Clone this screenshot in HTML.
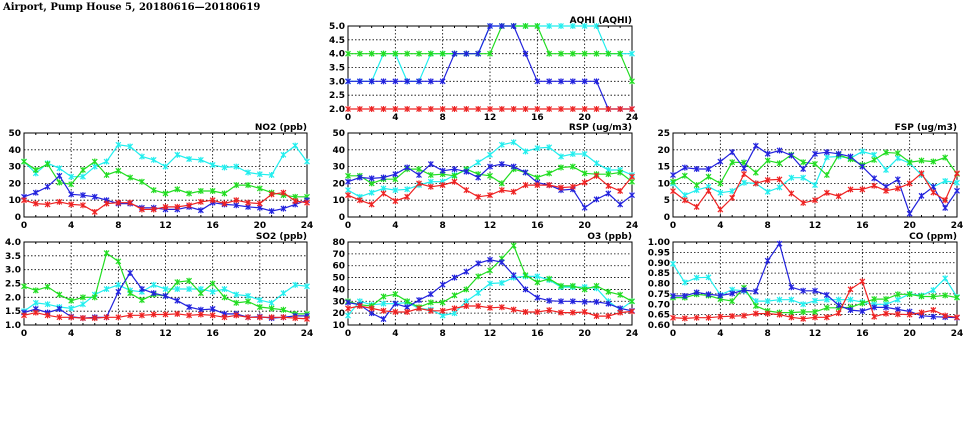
<!DOCTYPE html>
<html><head><meta charset="utf-8"><style>
html,body{margin:0;padding:0;background:#fff;width:975px;height:447px;overflow:hidden}
svg{display:block}
text{font-family:"DejaVu Sans","Liberation Sans",sans-serif;font-size:9px;font-weight:bold;fill:#000}
</style></head><body>
<svg id="s" width="975" height="447" xmlns="http://www.w3.org/2000/svg">
<text x="3" y="10" style="font-family:'DejaVu Serif','Liberation Serif',serif;font-size:10px">Airport, Pump House 5, 20180616—20180619</text>
</svg>
<script>
const C={c:"#22eeee",g:"#22dd22",b:"#2222dd",r:"#ee2222"};
const P=[
{t:"AQHI (AQHI)",L:348,R:632,T:26,B:109,min:2,max:5,ticks:["2.0","2.5","3.0","3.5","4.0","4.5","5.0"],d:{
c:[3,3,3,4,4,3,3,4,4,4,4,4,5,5,5,5,5,5,5,5,5,5,4,4,4],
g:[4,4,4,4,4,4,4,4,4,4,4,4,4,5,5,5,5,4,4,4,4,4,4,4,3],
b:[3,3,3,3,3,3,3,3,3,4,4,4,5,5,5,4,3,3,3,3,3,3,2,2,2],
r:[2,2,2,2,2,2,2,2,2,2,2,2,2,2,2,2,2,2,2,2,2,2,2,2,2]}},
{t:"NO2 (ppb)",L:24,R:307,T:133,B:217,min:0,max:50,ticks:["0","10","20","30","40","50"],d:{
c:[33,26,32,29,24,24,30,33,43,42,36,34,30,37,34.5,34,31,29.5,30,26.5,25.5,25,37,42.5,33],
g:[33,28,31.5,20.5,19.5,28,33,25,27.5,23.5,21,16,14,16.5,14,15.5,15.5,14,19,19,17,14.5,13,12,12],
b:[12,14.5,18,24.5,13.5,13,12,10,8,8,5.5,5.5,4.5,4.5,6,4,8.5,7.5,7,6,5.5,3.5,5,7.5,10],
r:[10,8,7.5,9,7.5,7,3,8,8.5,8.5,4.5,4.5,6,6,7,9,10,8,10,8.5,8,13.5,14.5,9.5,8.5]}},
{t:"SO2 (ppb)",L:24,R:307,T:242,B:325,min:1,max:4,ticks:["1.0","1.5","2.0","2.5","3.0","3.5","4.0"],d:{
c:[1.5,1.8,1.75,1.65,1.6,1.75,2.1,2.3,2.45,2.25,2.2,2.45,2.3,2.3,2.3,2.3,2.2,2.3,2.1,2.05,1.9,1.8,2.15,2.45,2.4],
g:[2.4,2.25,2.38,2.1,1.88,2.0,2.0,3.6,3.3,2.15,1.9,2.1,2.05,2.55,2.6,2.15,2.5,2.0,1.8,1.85,1.65,1.6,1.55,1.4,1.4],
b:[1.45,1.58,1.45,1.58,1.3,1.25,1.28,1.28,2.2,2.88,2.3,2.15,2.05,1.88,1.65,1.55,1.58,1.4,1.4,1.28,1.3,1.25,1.28,1.33,1.33],
r:[1.35,1.45,1.35,1.28,1.28,1.25,1.25,1.28,1.28,1.35,1.35,1.38,1.38,1.4,1.35,1.38,1.35,1.28,1.35,1.28,1.28,1.28,1.28,1.25,1.22]}},
{t:"RSP (ug/m3)",L:348,R:632,T:133,B:217,min:0,max:50,ticks:["0","10","20","30","40","50"],d:{
c:[16,12,14.5,17,16,16.5,19,21,21,25,28,32.5,37,43,44.5,39,41,41.5,36,37.5,37.5,32,28,28,25],
g:[24.5,24.5,20,22.5,22.5,28.5,28.5,25,25.5,24.5,28.5,25.5,24.5,20,28.5,26.5,23.5,26,29.5,30,26,25.5,25.5,26.5,21],
b:[21,23.5,23,23.5,25.5,29.5,25,31.5,27.5,28.5,27,23.5,30,31.5,30,26.5,20.5,19,16,16.5,5.5,10.5,14,7.5,13],
r:[13,10,7.5,14,9.5,12,20,18,19,21,16,12,13,16,15,19,19,19,17.5,18,20.5,24.5,18.5,15.5,24]}},
{t:"O3 (ppb)",L:348,R:632,T:242,B:325,min:10,max:80,ticks:["10","20","30","40","50","60","70","80"],d:{
c:[18,30,27,28,28,29,24,23,18,20,30,37,45,45.5,50,51,51,48,42,42,42,41,30,23,30],
g:[30,27,26,34,36,30,25,29,29,35,40,51,56,66,77,52,46,49,43,43,40,43,38,35.5,30],
b:[29,27,20,15,28,25,31,36,44,50,55,62,65,63,52,40,33,30.5,30,30,29.5,29.5,28,24,22],
r:[24,26,24,22,21,21,24,22,22,24,26,26,24.5,25,23,21,21,22.5,20.5,20.5,21,17.5,17.5,20.5,21.5]}},
{t:"FSP (ug/m3)",L:673,R:957,T:133,B:217,min:0,max:25,ticks:["0","5","10","15","20","25"],d:{
c:[10,6.5,8,9,7.2,7.7,10.2,10,7.5,8.8,11.7,11.7,9.5,17.8,18,17.5,19.5,18.5,14,17.5,16,12.5,9,10.7,10.2],
g:[10.5,12.3,9.5,12,10,16.3,16.2,13.2,16.8,16,18.5,16.3,15.8,12.5,18.5,17.2,15.5,17,19.2,19,16.3,16.8,16.5,17.7,12.8],
b:[12.5,14.7,14.3,14.3,16.5,19.3,14.5,21.2,18.8,19.8,18.3,14.3,18.8,19.3,18.8,18,15,11.5,9,11.2,1,6.3,9,2.7,7.8],
r:[7.7,5,3,7.8,2.2,5.7,12.8,10,11,11.2,7,4.2,5,7.2,6.2,8.2,8.2,9.3,7.8,8.5,10,13,7.3,5,13]}},
{t:"CO (ppm)",L:673,R:957,T:242,B:325,min:0.6,max:1.0,ticks:["0.60","0.65","0.70","0.75","0.80","0.85","0.90","0.95","1.00"],d:{
c:[.895,.805,.828,.83,.745,.77,.765,.715,.715,.722,.722,.70,.717,.722,.722,.722,.71,.70,.70,.722,.75,.742,.768,.825,.735],
g:[.732,.732,.748,.742,.725,.715,.78,.692,.668,.66,.66,.663,.663,.683,.683,.685,.705,.725,.725,.748,.748,.738,.737,.743,.732],
b:[.74,.74,.757,.748,.742,.752,.768,.762,.91,.992,.782,.765,.765,.745,.695,.672,.667,.685,.685,.675,.665,.645,.64,.638,.635],
r:[.635,.632,.635,.635,.64,.643,.645,.655,.655,.65,.637,.63,.637,.637,.657,.772,.81,.64,.655,.652,.65,.66,.672,.645,.637]}}
];
let h="";
for(const p of P){
 const X=i=>p.L+(p.R-p.L)*i/24, Y=v=>p.B-(p.B-p.T)*(v-p.min)/(p.max-p.min);
 for(const tk of p.ticks){const y=Y(parseFloat(tk));
  if(y>p.T+0.5&&y<p.B-0.5)h+=`<line x1="${p.L}" x2="${p.R}" y1="${y}" y2="${y}" stroke="#000" stroke-width="0.8" stroke-dasharray="1.5,2"/>`;
  h+=`<text x="${p.L-3}" y="${y+3}" text-anchor="end">${tk}</text>`;}
 for(let i=0;i<=24;i+=4){const x=X(i);
  if(i>0&&i<24)h+=`<line x1="${x}" x2="${x}" y1="${p.T}" y2="${p.B}" stroke="#000" stroke-width="0.8" stroke-dasharray="1.5,2"/>`;
  h+=`<text x="${x}" y="${p.B+11}" text-anchor="middle">${i}</text>`;}
 for(let i=1;i<24;i++){const x=X(i);h+=`<line x1="${x}" x2="${x}" y1="${p.B}" y2="${p.B-2}" stroke="#000"/><line x1="${x}" x2="${x}" y1="${p.T}" y2="${p.T+2}" stroke="#000"/>`;}
 h+=`<rect x="${p.L}" y="${p.T}" width="${p.R-p.L}" height="${p.B-p.T}" fill="none" stroke="#000" stroke-width="1"/>`;
 h+=`<text x="${p.R}" y="${p.T-3}" text-anchor="end">${p.t}</text>`;
 for(const k of ["c","g","b","r"]){const a=p.d[k];
  const pts=a.map((v,i)=>X(i).toFixed(1)+","+Y(v).toFixed(1)).join(" ");
  h+=`<polyline points="${pts}" fill="none" stroke="${C[k]}" stroke-width="1.2"/>`;
  a.forEach((v,i)=>{const x=X(i),y=Y(v);h+=`<path d="M${x-2.5},${y-2.5}L${x+2.5},${y+2.5}M${x-2.5},${y+2.5}L${x+2.5},${y-2.5}M${x},${y-3}L${x},${y+3}" stroke="${C[k]}" stroke-width="1.2"/>`;});}
}
document.getElementById("s").insertAdjacentHTML("beforeend",h);
</script>
</body></html>
